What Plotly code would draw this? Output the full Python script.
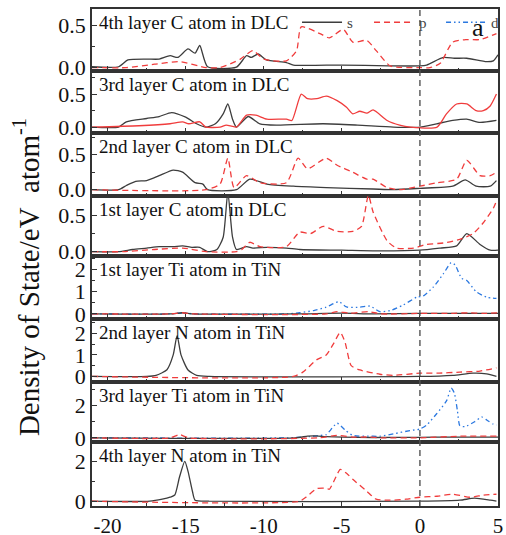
import plotly.graph_objects as go

FONT = "'Liberation Serif', 'Times New Roman', Times, serif"
C_S, C_P, C_D = "#3d3d3d", "#f03c3c", "#2b78e0"

panel_labels = ["4th layer C atom in DLC", "3rd layer C atom in DLC",
                "2nd layer C atom in DLC", "1st layer C atom in DLC",
                "1st layer Ti atom in TiN", "2nd layer N atom in TiN",
                "3rd layer Ti atom in TiN", "4th layer N atom in TiN"]
x_tickvals = [-20, -15, -10, -5, 0, 5]
x_ticktext = ["-20", "-15", "-10", "-5", "0", "5"]

# ---- panel 1: 4th layer C ----
c4_s_x = [-21, -19.3, -18.7, -17.5, -16.7, -16.0, -15.5, -14.85, -14.4, -14.1, -13.6, -11.75, -11.1, -10.8, -10.36, -9.83, -8.55, -8.1, -5, -2, 0, 0.43, 1.5, 2.2, 3.0, 4.27, 4.7, 5]
c4_s_y = [0.01, 0.01, 0.09, 0.1, 0.1, 0.14, 0.12, 0.22, 0.17, 0.26, 0.01, 0.005, 0.14, 0.12, 0.16, 0.09, 0.06, 0.03, 0.03, 0.02, 0.02, 0.03, 0.12, 0.11, 0.11, 0.07, 0.08, 0.15]
c4_p_x = [-21, -18.8, -17, -15.4, -13.7, -12.8, -11.5, -10.7, -10.0, -8.55, -7.9, -7.6, -6.4, -5.8, -4.9, -4.3, -3.4, -2.8, -1.9, 0, 0.64, 1.3, 2.1, 3.0, 3.85, 4.9]
c4_p_y = [0.0, 0.0, 0.04, 0.07, 0.0, 0.0, 0.1, 0.2, 0.1, 0.08, 0.2, 0.48, 0.4, 0.35, 0.45, 0.3, 0.32, 0.2, 0.02, 0.0, 0.0, 0.05, 0.3, 0.33, 0.33, 0.4]

# ---- panel 2: 3rd layer C ----
c3_s_x = [-21, -19.3, -18.8, -17.5, -16.7, -15.9, -15.0, -14.3, -13.7, -13.1, -12.6, -12.3, -12.0, -11.75, -11.0, -10.25, -9.2, -6.2, -4, -1.7, 0, 1.07, 2.1, 3.0, 3.85, 4.9]
c3_s_y = [0.0, 0.0, 0.08, 0.13, 0.16, 0.22, 0.15, 0.05, 0.0, 0.05, 0.2, 0.35, 0.12, 0.0, 0.16, 0.05, 0.03, 0.05, 0.03, 0.0, 0.0, 0.05, 0.1, 0.12, 0.07, 0.1]
c3_p_x = [-21, -18, -16, -15.2, -14.8, -14.1, -13.7, -12.8, -12.4, -11.75, -11.1, -10.5, -9.8, -8.55, -8.2, -7.6, -7.2, -6.6, -6.0, -5.3, -4.7, -4.3, -3.85, -3.4, -3.0, -2.1, -1.3, -0.6, 1.1, 1.7, 2.35, 3.0, 3.6, 4.06, 4.5, 4.9]
c3_p_y = [0.0, 0.02, 0.05, 0.08, 0.05, 0.08, 0.0, 0.0, 0.03, 0.0, 0.18, 0.18, 0.12, 0.12, 0.1, 0.5, 0.43, 0.43, 0.47, 0.4, 0.3, 0.2, 0.24, 0.21, 0.26, 0.1, 0.03, 0.0, 0.0, 0.2, 0.35, 0.35, 0.25, 0.25, 0.32, 0.5]

# ---- panel 3: 2nd layer C ----
c2_s_x = [-21, -19.3, -18.8, -18.2, -17.5, -16.7, -15.8, -15.2, -14.4, -13.9, -13.6, -11.75, -10.9, -9.8, -8.1, -6.0, -3.0, -1.7, 0, 2.1, 2.9, 3.6, 4.5, 4.9]
c2_s_y = [0.0, 0.0, 0.06, 0.12, 0.13, 0.2, 0.28, 0.25, 0.1, 0.08, 0.0, 0.0, 0.15, 0.08, 0.05, 0.03, 0.01, 0.0, 0.02, 0.05, 0.14, 0.05, 0.05, 0.13]
c2_p_x = [-21, -13.7, -12.8, -12.3, -11.9, -11.1, -10.25, -8.55, -7.8, -7.2, -6.0, -5.3, -4.3, -3.4, -3.0, -2.1, -1.3, 0, 1.1, 2.35, 3.0, 3.85, 4.5, 4.9]
c2_p_y = [0.0, 0.0, 0.08, 0.45, 0.03, 0.2, 0.1, 0.1, 0.45, 0.3, 0.45, 0.35, 0.25, 0.15, 0.15, 0.03, 0.0, 0.05, 0.1, 0.15, 0.42, 0.2, 0.2, 0.25]

# ---- panel 4: 1st layer C ----
c1_s_x = [-21, -19.3, -18.4, -17.5, -16.7, -15.8, -15.2, -14.6, -14.1, -13.6, -13.0, -12.6, -12.3, -12.0, -11.75, -11.1, -10.7, -9.8, -8.55, -7.7, -5, -2.8, 0, 1.3, 2.35, 3.0, 3.85, 4.5, 5]
c1_s_y = [0.0, 0.0, 0.03, 0.05, 0.07, 0.07, 0.08, 0.06, 0.06, 0.0, 0.03, 0.2, 0.82, 0.2, 0.03, 0.07, 0.05, 0.06, 0.05, 0.03, 0.02, 0.01, 0.02, 0.05, 0.08, 0.25, 0.1, 0.02, 0.02]
c1_p_x = [-21, -19, -17, -15.2, -13.7, -11.75, -11.4, -10.9, -10.25, -8.55, -7.7, -7.0, -6.2, -5.3, -4.3, -3.74, -3.3, -3.0, -2.1, -1.5, -0.4, 0.4, 1.5, 2.56, 3.4, 4.06, 4.7, 4.9]
c1_p_y = [0.0, 0.0, 0.03, 0.05, 0.0, 0.0, 0.03, 0.13, 0.07, 0.07, 0.27, 0.25, 0.35, 0.28, 0.28, 0.35, 0.78, 0.55, 0.15, 0.05, 0.05, 0.1, 0.12, 0.17, 0.25, 0.4, 0.6, 0.7]

# ---- panel 5: 1st layer Ti ----
ti1_s_x = [-21, -16, -15.2, -14.5, -8, -5, -3, 0, 5]
ti1_s_y = [0.0, 0.0, 0.05, 0.0, 0.0, 0.03, 0.0, 0.02, 0.02]
ti1_p_x = [-21, -16, -15.2, -14.5, -6, -5.3, -4.5, -3.3, -2.5, 0, 2, 3.1, 4, 5]
ti1_p_y = [0.0, 0.0, 0.05, 0.0, 0.0, 0.1, 0.03, 0.1, 0.0, 0.02, 0.02, 0.05, 0.02, 0.05]
ti1_d_x = [-21, -16, -15.2, -14.5, -8.5, -7.7, -6.8, -6.0, -5.2, -4.7, -3.85, -3.2, -2.56, -1.9, -1.07, -0.2, 0.2, 0.85, 1.5, 2.0, 2.25, 2.67, 3.0, 3.6, 4.27, 4.9]
ti1_d_y = [0.0, 0.0, 0.05, 0.0, 0.0, 0.05, 0.15, 0.3, 0.55, 0.31, 0.3, 0.35, 0.1, 0.15, 0.4, 0.75, 0.8, 1.2, 1.8, 2.3, 2.2, 1.6, 1.5, 1.0, 0.75, 0.7]

# ---- panel 6: 2nd layer N ----
n2_s_x = [-21, -17.5, -16.9, -16.2, -15.8, -15.55, -15.3, -14.85, -14.3, -13.5, 0, 2.1, 3.4, 4.27, 4.9]
n2_s_y = [0.0, 0.0, 0.05, 0.31, 1.0, 1.9, 1.0, 0.3, 0.05, 0.0, 0.0, 0.05, 0.15, 0.12, 0.0]
n2_p_x = [-21, -8.1, -7.5, -6.6, -6.0, -5.55, -5.1, -4.8, -4.4, -3.85, -2.56, -1.7, 0, 1.1, 2.56, 3.85, 4.9]
n2_p_y = [0.0, 0.0, 0.2, 0.78, 1.0, 1.5, 2.05, 1.6, 0.5, 0.3, 0.1, 0.05, 0.15, 0.15, 0.2, 0.25, 0.4]

# ---- panel 7: 3rd layer Ti ----
ti3_s_x = [-21, -8, -7.2, -6.8, -6.0, -5, -3, 0, 2, 5]
ti3_s_y = [0.0, 0.0, 0.1, 0.12, 0.08, 0.05, 0.02, 0.03, 0.05, 0.05]
ti3_p_x = [-21, -16, -15.4, -14.8, -6.5, -5.3, -4.3, -3.4, -2.5, 0, 2.56, 5]
ti3_p_y = [0.0, 0.0, 0.2, 0.0, 0.0, 0.15, 0.05, 0.05, 0.0, 0.0, 0.1, 0.1]
ti3_d_x = [-21, -8.5, -7.05, -6.4, -6.0, -5.3, -4.8, -4.3, -3.0, -2.56, -1.7, -0.64, 0, 0.43, 1.07, 1.7, 2.0, 2.2, 2.4, 2.56, 2.9, 3.5, 3.95, 4.3, 4.7, 4.9]
ti3_d_y = [0.0, 0.0, 0.08, 0.15, 0.2, 0.91, 0.5, 0.15, 0.1, 0.1, 0.25, 0.45, 0.55, 0.8, 1.5, 2.3, 3.1, 2.8, 1.7, 0.75, 0.7, 1.0, 1.3, 1.1, 0.85, 0.8]

# ---- panel 8: 4th layer N ----
n4_s_x = [-21, -17.3, -16.5, -16.0, -15.7, -15.4, -15.06, -14.85, -14.57, -14.4, -13.5, 0, 2.56, 3.5, 4.5, 4.9]
n4_s_y = [0.0, 0.0, 0.1, 0.2, 0.31, 1.2, 2.0, 1.5, 0.5, 0.05, 0.0, 0.0, 0.05, 0.15, 0.05, 0.0]
n4_p_x = [-21, -7.7, -7.3, -6.6, -6.0, -5.8, -5.45, -5.1, -4.7, -4.3, -3.4, -2.8, -1.9, -0.9, 0, 1.1, 2.1, 3.2, 4.06, 4.9]
n4_p_y = [0.0, 0.0, 0.2, 0.63, 0.65, 0.6, 1.1, 1.6, 1.4, 1.1, 0.5, 0.1, 0.05, 0.1, 0.2, 0.25, 0.35, 0.2, 0.3, 0.35]

panels = [
    {"s": (c4_s_x, c4_s_y), "p": (c4_p_x, c4_p_y), "d": ([None], [None])},
    {"s": (c3_s_x, c3_s_y), "p": (c3_p_x, c3_p_y)},
    {"s": (c2_s_x, c2_s_y), "p": (c2_p_x, c2_p_y)},
    {"s": (c1_s_x, c1_s_y), "p": (c1_p_x, c1_p_y)},
    {"s": (ti1_s_x, ti1_s_y), "p": (ti1_p_x, ti1_p_y), "d": (ti1_d_x, ti1_d_y)},
    {"s": (n2_s_x, n2_s_y), "p": (n2_p_x, n2_p_y)},
    {"s": (ti3_s_x, ti3_s_y), "p": (ti3_p_x, ti3_p_y), "d": (ti3_d_x, ti3_d_y)},
    {"s": (n4_s_x, n4_s_y), "p": (n4_p_x, n4_p_y)},
]

y_ranges = [[-0.04, 0.69], [-0.09, 0.85], [-0.09, 0.81], [-0.06, 0.77],
            [-0.23, 2.6], [-0.26, 2.67], [-0.26, 3.48], [-0.24, 2.97]]
y_dticks = [0.5, 0.5, 0.5, 0.5, 1, 1, 2, 2]
y_minor = [0.25, 0.25, 0.25, 0.25, 0.5, 0.5, 1, 1]

W, H = 506, 535
ML, MR, MT, MB = 92, 8, 9, 29
PH = H - MT - MB
bounds = [9, 71, 133, 196, 256, 319, 382, 442, 506]

fig = go.Figure()
styles = {
    "s": dict(color=C_S, width=1.3, dash="solid"),
    "p": dict(color=C_P, width=1.3, dash="6px,4px"),
    "d": dict(color=C_D, width=1.3, dash="5px,3px,1.5px,3px,1.5px,3px"),
}
for i, pan in enumerate(panels):
    n = i + 1
    sfx = "" if n == 1 else str(n)
    for key in ["d", "s", "p"]:
        if key not in pan:
            continue
        xs, ys = pan[key]
        dash = styles[key]["dash"]
        if i == 1 and key == "p":
            dash = "solid"
        fig.add_trace(go.Scatter(
            x=xs, y=ys, mode="lines", name=key,
            line=dict(color=styles[key]["color"], width=styles[key]["width"], dash=dash,
                      shape="spline", smoothing=0.6),
            xaxis=f"x{sfx}", yaxis=f"y{sfx}",
            showlegend=(i == 0), legendrank={"s": 1, "p": 2, "d": 3}[key],
        ))

axis_line = dict(showline=True, mirror=True, linecolor="#333333", linewidth=1.6,
                 ticks="inside", tickcolor="#333333", ticklen=5, tickwidth=1.2,
                 showgrid=False, zeroline=False)
for i in range(8):
    n = i + 1
    sfx = "" if n == 1 else str(n)
    top_px, bot_px = bounds[i], bounds[i + 1]
    dom = [max(0.0, (H - MB - bot_px) / PH), min(1.0, (H - MB - top_px) / PH)]
    xa = dict(axis_line, range=[-21, 5], tickmode="array",
              tickvals=x_tickvals, ticktext=x_ticktext,
              minor=dict(dtick=2.5, tick0=0, ticks="inside", ticklen=3, tickcolor="#333333"),
              anchor=f"y{sfx}", domain=[0, 1],
              showticklabels=(n == 8),
              tickfont=dict(family=FONT, size=21, color="#111"))
    if n != 1:
        xa["matches"] = "x"
    ya = dict(axis_line, range=y_ranges[i], dtick=y_dticks[i], tick0=0,
              minor=dict(dtick=y_minor[i], tick0=0, ticks="inside", ticklen=3, tickcolor="#333333"),
              anchor=f"x{sfx}", domain=dom,
              tickformat=".1f" if i < 4 else "d",
              tickfont=dict(family=FONT, size=22, color="#111"))
    fig.layout[f"xaxis{sfx}"] = xa
    fig.layout[f"yaxis{sfx}"] = ya
    fig.add_annotation(text=panel_labels[i], xref=f"x{sfx} domain", yref=f"y{sfx} domain",
                       x=0.013, y=1, xanchor="left", yanchor="top", yshift=-1,
                       showarrow=False, font=dict(family=FONT, size=19, color="#111"))

# vertical dashed line at E = 0 across all panels
fig.add_shape(type="line", xref="x8", yref="paper", x0=0, x1=0, y0=0, y1=1,
              line=dict(color="#555555", width=1.4, dash="6px,4px"))

fig.add_annotation(text="a", xref="paper", yref="paper", x=0.951, y=0.962,
                   xanchor="center", yanchor="middle",
                   showarrow=False, font=dict(family=FONT, size=26, color="#111"))
fig.add_annotation(text="Density of State/eV&nbsp; atom<sup>-1</sup>", xref="paper", yref="paper",
                   x=-0.162, y=0.461, xanchor="center", yanchor="middle", textangle=-90,
                   showarrow=False, font=dict(family=FONT, size=29, color="#111"))

fig.update_layout(
    width=W, height=H, margin=dict(l=ML, r=MR, t=MT, b=MB, autoexpand=False),
    plot_bgcolor="white", paper_bgcolor="white",
    legend=dict(orientation="h", x=0.505, y=1.006, xanchor="left", yanchor="top",
                bgcolor="rgba(0,0,0,0)", font=dict(family=FONT, size=15, color="#444"),
                itemwidth=40, tracegroupgap=0, entrywidth=17, entrywidthmode="pixels"),
    showlegend=True,
)
fig.write_html("out.html")
